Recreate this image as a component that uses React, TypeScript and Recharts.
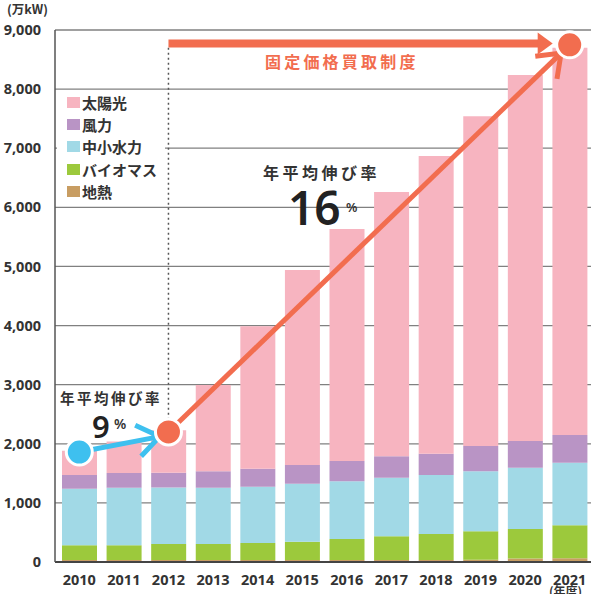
import React from "react";
import {
  Bar,
  BarChart,
  CartesianGrid,
  ReferenceDot,
  ReferenceLine,
  XAxis,
  YAxis,
} from "recharts";

const years = ["2010", "2011", "2012", "2013", "2014", "2015", "2016", "2017", "2018", "2019", "2020", "2021"];

// 万kW, stacked bottom to top
const geothermal = [35, 35, 35, 35, 35, 35, 35, 35, 35, 40, 60, 65];
const biomass = [247, 247, 270, 270, 286, 309, 354, 400, 439, 479, 498, 556];
const smallHydro = [958, 975, 955, 952, 953, 981, 976, 991, 998, 1016, 1038, 1059];
const wind = [232, 249, 251, 278, 305, 316, 344, 362, 360, 428, 451, 469];
const solar = [408, 534, 719, 1460, 2411, 3299, 3925, 4472, 5038, 5577, 6193, 6551];

const yTicks = [0, 1000, 2000, 3000, 4000, 5000, 6000, 7000, 8000, 9000];

const series = [
  { key: "geothermal", name: "地熱", color: "#C89D62", values: geothermal },
  { key: "biomass", name: "バイオマス", color: "#9CC93C", values: biomass },
  { key: "smallHydro", name: "中小水力", color: "#A1D9E6", values: smallHydro },
  { key: "wind", name: "風力", color: "#B994C5", values: wind },
  { key: "solar", name: "太陽光", color: "#F7B4C0", values: solar },
];

const data = years.map((year, i) => {
  const row: Record<string, string | number> = { year };
  series.forEach((s) => {
    row[s.key] = s.values[i];
  });
  return row;
});

const RED = "#F26D4F";
const BLUE = "#3EC0EF";
const JP = '"Noto Sans CJK JP", "Noto Sans", sans-serif';
const NUM = '"Noto Sans", "DejaVu Sans", sans-serif';

type ArrowOpts = {
  color: string;
  width: number;
  startGap: number;
  endGap: number;
  head: "chevron" | "triangle";
  armLen?: number;
  armAngle?: number;
  headLen?: number;
  headHalf?: number;
};

function arrowShape(o: ArrowOpts) {
  return (props: any) => {
    const { x1, y1, x2, y2 } = props;
    const dx = x2 - x1;
    const dy = y2 - y1;
    const len = Math.hypot(dx, dy) || 1;
    const ux = dx / len;
    const uy = dy / len;
    const sx = x1 + ux * o.startGap;
    const sy = y1 + uy * o.startGap;
    const tx = x2 - ux * o.endGap;
    const ty = y2 - uy * o.endGap;
    if (o.head === "triangle") {
      const hl = o.headLen ?? 15;
      const hh = o.headHalf ?? 11;
      const bx = tx - ux * hl;
      const by = ty - uy * hl;
      const px = -uy;
      const py = ux;
      return (
        <g>
          <line x1={sx} y1={sy} x2={bx + ux * 2} y2={by + uy * 2} stroke={o.color} strokeWidth={o.width} />
          <polygon
            points={`${tx},${ty} ${bx + px * hh},${by + py * hh} ${bx - px * hh},${by - py * hh}`}
            fill={o.color}
          />
        </g>
      );
    }
    const a = ((o.armAngle ?? 37) * Math.PI) / 180;
    const L = o.armLen ?? 26;
    const rx = -ux;
    const ry = -uy;
    const rot = (ang: number) => [
      tx + L * (rx * Math.cos(ang) - ry * Math.sin(ang)),
      ty + L * (rx * Math.sin(ang) + ry * Math.cos(ang)),
    ];
    const [ax, ay] = rot(a);
    const [cx, cy] = rot(-a);
    return (
      <g>
        <line x1={sx} y1={sy} x2={tx} y2={ty} stroke={o.color} strokeWidth={o.width} />
        <polyline
          points={`${ax},${ay} ${tx},${ty} ${cx},${cy}`}
          fill="none"
          stroke={o.color}
          strokeWidth={o.width}
          strokeLinejoin="miter"
        />
      </g>
    );
  };
}

const overlay = (style: React.CSSProperties): React.CSSProperties => ({
  position: "absolute",
  lineHeight: 1,
  whiteSpace: "nowrap",
  ...style,
});

export default function App() {
  return (
    <div
      style={{
        position: "absolute",
        left: 0,
        top: 0,
        width: 591,
        height: 594,
        overflow: "hidden",
        background: "#fff",
        fontFamily: NUM,
      }}
    >
      <BarChart width={592} height={594} data={data} margin={{ top: 30, right: 0, bottom: 0, left: 0 }}>
        <CartesianGrid vertical={false} stroke="#808080" strokeWidth={1.3} />
        <XAxis
          dataKey="year"
          height={32}
          interval={0}
          tickLine={false}
          axisLine={{ stroke: "#444", strokeWidth: 2 }}
          padding={{ left: 2, right: 0 }}
          tickMargin={7}
          tick={{ fill: "#333", fontSize: 14.5, fontWeight: 700, fontFamily: NUM }}
        />
        <YAxis
          width={55}
          domain={[0, 9000]}
          ticks={yTicks}
          interval={0}
          tickLine={false}
          axisLine={{ stroke: "#555", strokeWidth: 1.5 }}
          tickMargin={8}
          tickFormatter={(v: number) => v.toLocaleString("en-US")}
          tick={{ fill: "#333", fontSize: 14.5, fontWeight: 700, fontFamily: NUM }}
        />
        {series.map((s) => (
          <Bar key={s.key} dataKey={s.key} name={s.name} stackId="a" fill={s.color} barSize={35} isAnimationActive={false} />
        ))}
        <ReferenceLine
          segment={[{ x: "2012", y: 8700 }, { x: "2012", y: 2200 }]}
          stroke="#555"
          strokeWidth={1.5}
          strokeDasharray="2 3"
        />
        <ReferenceLine
          segment={[{ x: "2012", y: 8770 }, { x: "2021", y: 8770 }]}
          shape={arrowShape({ color: RED, width: 8, startGap: 0, endGap: 17, head: "triangle", headLen: 15, headHalf: 11 })}
        />
        <ReferenceLine
          segment={[{ x: "2012", y: 2200 }, { x: "2021", y: 8750 }]}
          shape={arrowShape({ color: RED, width: 5, startGap: 13, endGap: 12, head: "chevron", armLen: 26, armAngle: 37 })}
        />
        <ReferenceLine
          segment={[{ x: "2010", y: 1860 }, { x: "2012", y: 2150 }]}
          shape={arrowShape({ color: BLUE, width: 5, startGap: 0, endGap: 9, head: "chevron", armLen: 27, armAngle: 36 })}
        />
        <ReferenceDot x="2010" y={1860} r={13} fill={BLUE} stroke="#fff" strokeWidth={3} />
        <ReferenceDot x="2012" y={2200} r={13} fill={RED} stroke="#fff" strokeWidth={3} />
        <ReferenceDot x="2021" y={8750} r={13} fill={RED} stroke="#fff" strokeWidth={3} />
      </BarChart>

      {/* legend */}
      <div style={{ position: "absolute", left: 57, top: 91, width: 108, background: "#fff", padding: 0 }}>
        {[...series].reverse().map((s) => (
          <div key={s.key} style={{ display: "flex", alignItems: "center", height: 22.3 }}>
            <span style={{ display: "inline-block", width: 13, height: 11, background: s.color, marginLeft: 10, marginRight: 2 }} />
            <span style={{ fontFamily: JP, fontSize: 15, fontWeight: 700, color: "#333" }}>{s.name}</span>
          </div>
        ))}
      </div>

      <div style={overlay({ left: 7, top: 3, fontSize: 12.5, fontWeight: 700, color: "#333", fontFamily: JP })}>(万kW)</div>
      <div style={overlay({ left: 549, top: 585, fontSize: 12, fontWeight: 700, color: "#333", fontFamily: JP })}>(年度)</div>

      <div style={overlay({ left: 265, top: 53, fontSize: 16, fontWeight: 700, color: RED, letterSpacing: 3.2, fontFamily: JP })}>
        固定価格買取制度
      </div>

      <div style={overlay({ left: 263, top: 164, fontSize: 16, fontWeight: 700, color: "#333", letterSpacing: 3.5, fontFamily: JP })}>
        年平均伸び率
      </div>
      <div style={overlay({ left: 288, top: 184, fontSize: 46, fontWeight: 600, color: "#222", fontFamily: NUM })}>16</div>
      <div style={overlay({ left: 346, top: 201, fontSize: 13, fontWeight: 600, color: "#333", fontFamily: NUM })}>%</div>

      <div style={overlay({ left: 60, top: 391, fontSize: 14.5, fontWeight: 700, color: "#333", letterSpacing: 2.5, fontFamily: JP })}>
        年平均伸び率
      </div>
      <div style={overlay({ left: 92, top: 411, fontSize: 31, fontWeight: 600, color: "#222", fontFamily: NUM })}>9</div>
      <div style={overlay({ left: 114, top: 417, fontSize: 14, fontWeight: 600, color: "#333", fontFamily: NUM })}>%</div>
    </div>
  );
}
